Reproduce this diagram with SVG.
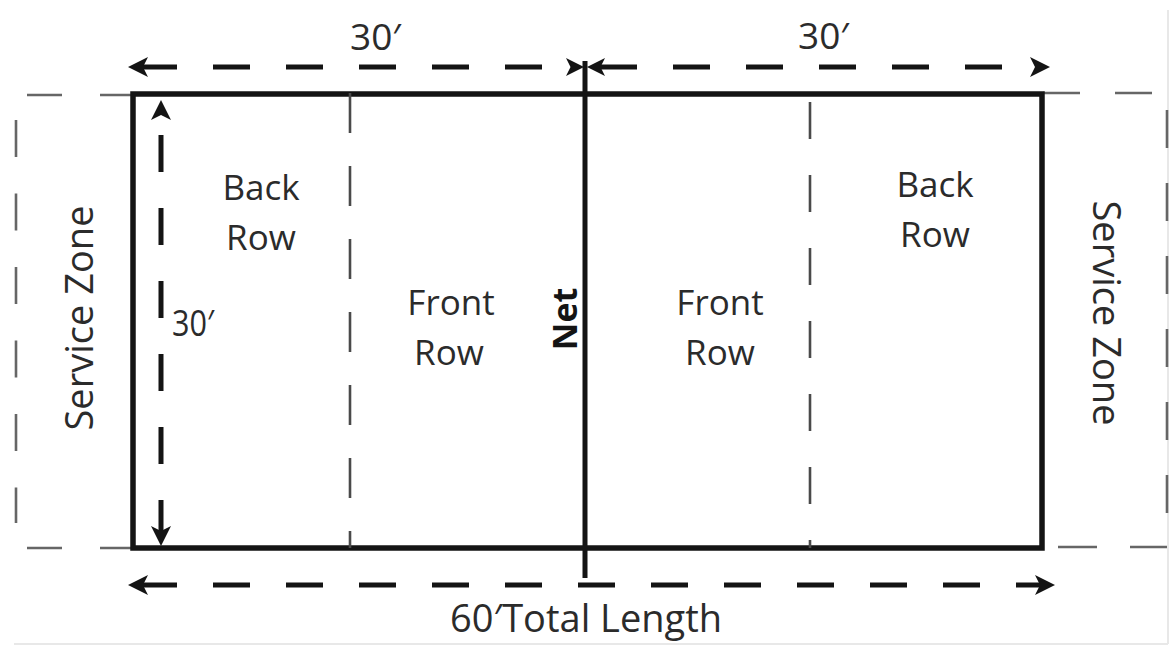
<svg xmlns="http://www.w3.org/2000/svg" xmlns:xlink="http://www.w3.org/1999/xlink" width="1176" height="648" viewBox="0 0 1176 648">
<style>
.court{fill:none;stroke:#141414;stroke-width:5.5}
.net{stroke:#141414;stroke-width:5}
.attack{stroke:#4a4a4a;stroke-width:2.6;fill:none}
.zone{stroke:#666;stroke-width:2.6;fill:none}
.dim{stroke:#141414;stroke-width:5;fill:none}
.lbl{font-family:"Open Sans","Noto Sans","Liberation Sans",sans-serif;font-size:35px;fill:#2b2b2b;text-anchor:middle}
.big{font-family:"Open Sans","Noto Sans","Liberation Sans",sans-serif;font-size:37px;fill:#2b2b2b}
.head{fill:#141414}
</style>
<defs>
<path id="ah" d="M0,0 L-20,-10 L-15,0 L-20,10 Z"/>
</defs>
<rect width="1176" height="648" fill="#fff"/>
<g id="frame" stroke="#e8e8e8" stroke-width="2" fill="none">
<line x1="14" y1="644" x2="1168" y2="644"/>
<line x1="1168" y1="10" x2="1168" y2="644"/>
</g>
<g id="service-zone-left">
<line class="zone" x1="16" y1="120" x2="16" y2="523" stroke-dasharray="37 36.5"/>
<line class="zone" x1="27" y1="95" x2="133" y2="95" stroke-dasharray="35 38"/>
<line class="zone" x1="27" y1="548" x2="133" y2="548" stroke-dasharray="35 38"/>
<text class="big" style="font-size:38px" text-anchor="middle" transform="translate(93,318) rotate(-90)">Service Zone</text>
</g>
<g id="service-zone-right">
<line class="zone" x1="1167" y1="110" x2="1167" y2="513" stroke-dasharray="38 35"/>
<line class="zone" x1="1043" y1="93" x2="1152" y2="93" stroke-dasharray="37 35"/>
<line class="zone" x1="1058" y1="547" x2="1167" y2="547" stroke-dasharray="39 33"/>
<text class="big" style="font-size:38px" text-anchor="middle" transform="translate(1093,313) rotate(90)">Service Zone</text>
</g>
<g id="court">
<rect class="court" x="133" y="94" width="909" height="454"/>
</g>
<g id="attack-lines">
<line class="attack" x1="350" y1="93" x2="350" y2="548" stroke-dasharray="40 33"/>
<line class="attack" x1="810" y1="102" x2="810" y2="548" stroke-dasharray="37 36"/>
</g>
<g id="net">
<line class="net" x1="585" y1="61" x2="585" y2="578"/>
<text transform="translate(577,319) rotate(-90)" style="font-family:'Open Sans','Noto Sans','Liberation Sans',sans-serif;font-size:34px;font-weight:bold;fill:#141414" text-anchor="middle">Net</text>
</g>
<g id="left-back-row"><text class="lbl" x="261" y="200">Back</text><text class="lbl" x="261" y="250">Row</text></g>
<g id="left-front-row"><text class="lbl" x="451" y="315">Front</text><text class="lbl" x="449" y="365">Row</text></g>
<g id="right-front-row"><text class="lbl" x="720" y="315">Front</text><text class="lbl" x="720" y="365">Row</text></g>
<g id="right-back-row"><text class="lbl" x="935" y="197">Back</text><text class="lbl" x="935" y="247">Row</text></g>
<g id="connectors">
<line class="dim" x1="140" y1="67" x2="545" y2="67" stroke-dasharray="37 36"/>
<line class="dim" x1="600" y1="67" x2="1003" y2="67" stroke-dasharray="37 36"/>
<line class="dim" x1="140" y1="585" x2="1045" y2="585" stroke-dasharray="37 36"/>
<line class="dim" x1="161" y1="135" x2="161" y2="535" stroke-dasharray="37 36"/>
<use href="#ah" class="head" transform="translate(128,67) rotate(180)"/>
<use href="#ah" class="head" transform="translate(584,67) scale(0.9)"/>
<use href="#ah" class="head" transform="translate(587,67) rotate(180) scale(0.9)"/>
<use href="#ah" class="head" transform="translate(1050,67)"/>
<use href="#ah" class="head" transform="translate(128,585) rotate(180)"/>
<use href="#ah" class="head" transform="translate(1055,585)"/>
<use href="#ah" class="head" transform="translate(161,100) rotate(-90)"/>
<use href="#ah" class="head" transform="translate(161,546) rotate(90)"/>
</g>
<g id="dimension-labels">
<text class="big" x="350" y="50">30′</text>
<text class="big" x="798" y="49">30′</text>
<text class="big" x="172" y="336" textLength="42" lengthAdjust="spacingAndGlyphs">30′</text>
<text class="big" style="font-size:38px" x="450" y="632">60′Total Length</text>
</g>
</svg>
